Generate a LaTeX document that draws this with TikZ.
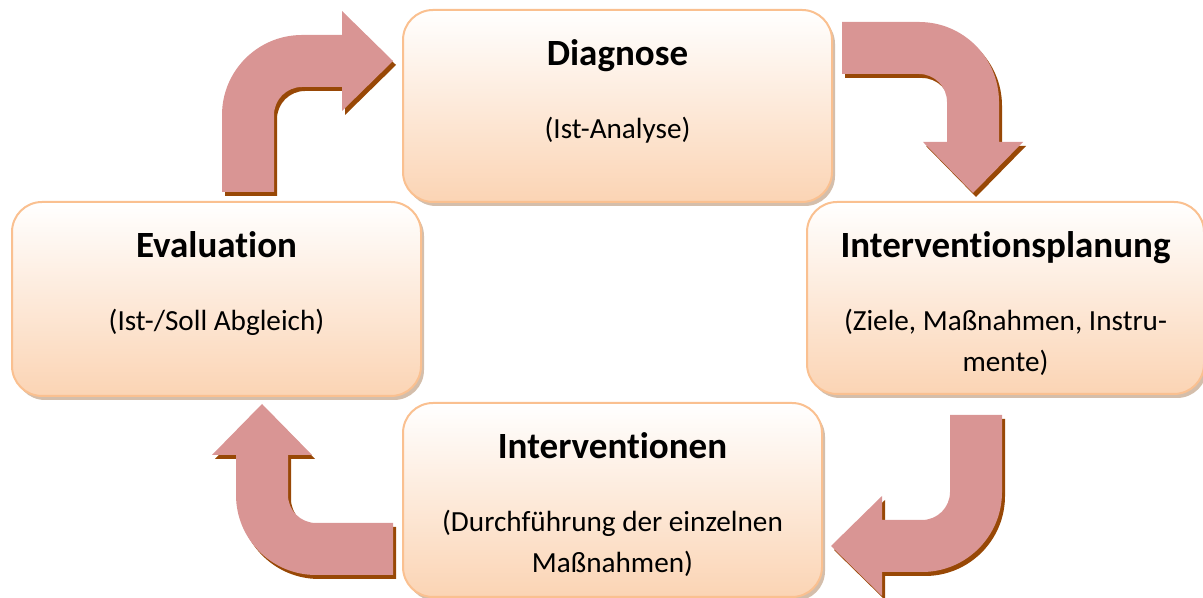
\documentclass[tikz,border=0pt]{standalone}
\usepackage{fontspec}
\setmainfont[Ligatures=NoCommon]{Carlito}
\usetikzlibrary{shadows}

\definecolor{kastenrand}{HTML}{FAC090}
\definecolor{kastenfuell}{HTML}{FBD4B4}
\definecolor{kastenschatten}{HTML}{C9AE96}
\definecolor{pfeilfuell}{HTML}{D99594}
\definecolor{pfeilschatten}{HTML}{984806}

% gebogener Pfeil, Schaft nach oben, Spitze nach rechts
\newcommand{\pfeilform}{(0,0) -- (0,77)
  arc[start angle=180, end angle=90, radius=80] --
  (120,157) -- (120,181) -- (171,131) -- (120,81) -- (120,105) --
  (80,105) arc[start angle=90, end angle=180, radius=28] --
  (52,0) -- cycle}

\begin{document}
\begin{tikzpicture}[x=0.5pt, y=0.5pt,
  kasten/.style={draw=kastenrand, line width=1pt, rounded corners=15pt,
    top color=white, bottom color=kastenfuell, inner sep=0pt,
    drop shadow={shadow xshift=1.5pt, shadow yshift=-2pt,
      fill=kastenschatten, opacity=0.8}},
  titel/.style={anchor=base, inner sep=0pt,
    font=\fontsize{18.5}{22}\selectfont\bfseries},
  untertitel/.style={anchor=north, align=center, inner sep=0pt,
    font=\fontsize{14.6}{20.5}\selectfont}]

\useasboundingbox (0,0) rectangle (1203,598);

% Pfeile
\foreach \px/\py/\dreh in {222/406/0, 842/576/-90, 1002/183/180, 393/23/90}
{
    \fill[pfeilschatten, shift={(\px+3,\py-4)}, rotate=\dreh] \pfeilform;
    \fill[pfeilfuell, shift={(\px,\py)}, rotate=\dreh] \pfeilform;
}

% Kästen
\node[kasten, minimum width=214.5pt, minimum height=96pt] (diag) at (617.5,492) {};
\node[kasten, minimum width=204.5pt, minimum height=97pt] (eval) at (216.5,299) {};
\node[kasten, minimum width=198.5pt, minimum height=96pt] (plan) at (1005.5,300) {};
\node[kasten, minimum width=209.5pt, minimum height=97pt] (intv) at (612.5,98) {};

% Texte
\node[titel] (diagT) at ([yshift=-28.5pt]diag.north) {Diagnose};
\node[untertitel] (diagU) at ([yshift=-54pt]diag.north) {(Ist-Analyse)};

\node[titel] (evalT) at ([yshift=-28.5pt]eval.north) {Evaluation};
\node[untertitel] (evalU) at ([yshift=-54pt]eval.north) {(Ist-/Soll Abgleich)};

\node[titel] (planT) at ([yshift=-28.5pt]plan.north) {Interventionsplanung};
\node[untertitel] (planU) at ([yshift=-54pt]plan.north)
  {(Ziele, Maßnahmen, Instru-\\mente)};

\node[titel] (intvT) at ([yshift=-28.5pt]intv.north) {Interventionen};
\node[untertitel] (intvU) at ([yshift=-54pt]intv.north)
  {(Durchführung der einzelnen\\Maßnahmen)};

\end{tikzpicture}
\end{document}
